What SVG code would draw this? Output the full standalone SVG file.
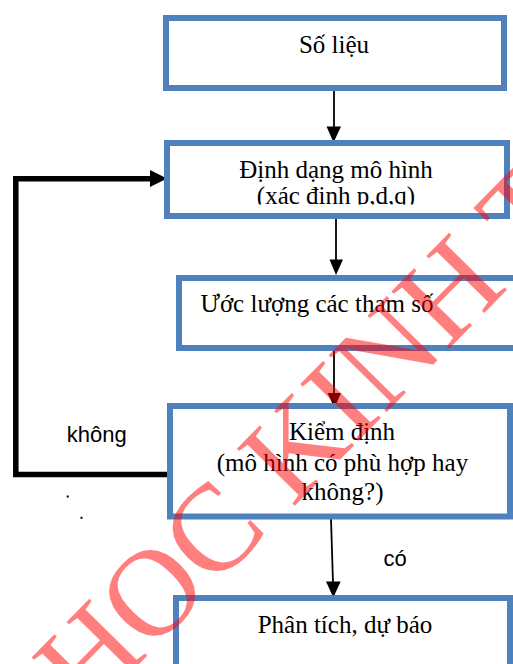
<svg xmlns="http://www.w3.org/2000/svg" width="513" height="664" viewBox="0 0 513 664">
<style>
.box{fill:#ffffff;stroke:#4F81BD;stroke-width:6}
.t{font-family:"Liberation Serif","Times New Roman",serif;font-size:25px;fill:#000}
.lbl{font-family:"Liberation Sans",Arial,sans-serif;font-size:22px;fill:#000}
.thin{stroke:#000;stroke-width:1.8;fill:none}
.thick{stroke:#000;stroke-width:5.5;fill:none;stroke-linejoin:miter}
.wm{font-family:"Liberation Serif","Times New Roman",serif;font-size:124px;fill:#FF0000;fill-opacity:0.5}
</style>
<defs>
<clipPath id="clip2"><rect x="170" y="146" width="334" height="58.5"/></clipPath>
</defs>
<rect width="513" height="664" fill="#ffffff"/>
<g id="connectors">
<line class="thin" x1="334" y1="91" x2="334" y2="128"/>
<polygon points="326.5,126.5 341,126.5 333.5,142.5" fill="#000"/>
<line class="thin" x1="336" y1="219" x2="336" y2="261"/>
<polygon points="329.5,259.5 343,259.5 336,275" fill="#000"/>
<line class="thin" x1="334" y1="351" x2="334" y2="394"/>
<polygon points="327.5,393 341,393 334.5,408" fill="#000"/>
<line class="thin" x1="331" y1="519" x2="333" y2="583"/>
<polygon points="326,581.5 340.7,581.5 333.3,597.5" fill="#000"/>
<polyline class="thick" points="170,474.5 15.8,474.5 15.8,178.8 151,178.8"/>
<polygon points="150,170 150,187 167,178.5" fill="#000"/>
</g>
<g id="n1">
<rect class="box" x="166" y="18" width="338" height="70"/>
<text class="t" x="334" y="53" text-anchor="middle">Số liệu</text>
</g>
<g id="n2">
<rect class="box" x="167" y="143" width="340" height="73"/>
<text class="t" x="336" y="178" text-anchor="middle">Định dạng mô hình</text>
<text class="t" x="336" y="204" text-anchor="middle" clip-path="url(#clip2)">(xác định p,d,q)</text>
</g>
<g id="n3">
<rect class="box" x="179" y="278" width="400" height="70"/>
<text class="t" x="200.5" y="311.5">Ước lượng các tham số</text>
</g>
<g id="n4">
<rect class="box" x="170" y="406" width="340" height="110.5"/>
<text class="t" x="342" y="440" text-anchor="middle">Kiểm định</text>
<text class="t" x="342.5" y="471" text-anchor="middle">(mô hình có phù hợp hay</text>
<text class="t" x="342.5" y="500" text-anchor="middle">không?)</text>
</g>
<g id="n5">
<rect class="box" x="176" y="598" width="334" height="100"/>
<text class="t" x="345" y="633" text-anchor="middle">Phân tích, dự báo</text>
</g>
<g id="labels">
<text class="lbl" x="96.7" y="441.5" text-anchor="middle">không</text>
<text class="lbl" x="395" y="565.5" text-anchor="middle">có</text>
<rect x="66.7" y="495.5" width="2" height="2" fill="#000"/>
<rect x="80.5" y="516.8" width="2" height="2" fill="#000"/>
</g>
<g id="watermark">
<text class="wm" transform="translate(87,717) rotate(-45.5)">HOC KINH TẾ</text>
</g>
</svg>
